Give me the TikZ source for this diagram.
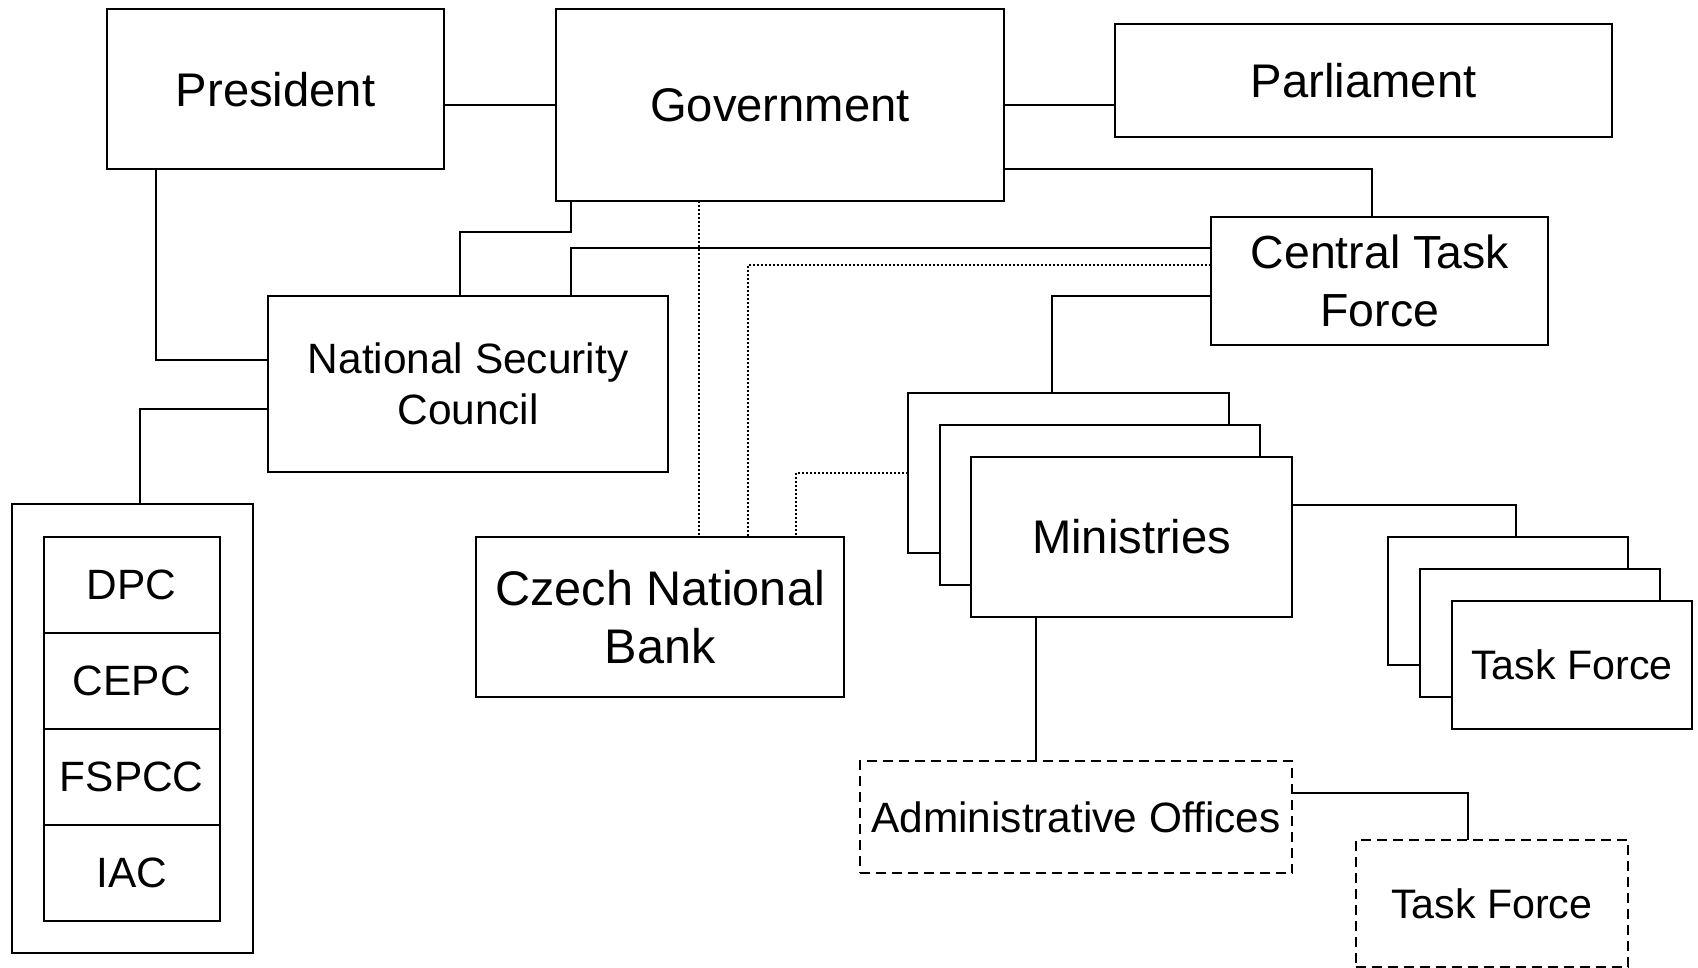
\documentclass[tikz,border=0pt]{standalone}
\usepackage{fontspec}
\setmainfont{Liberation Sans}
\usetikzlibrary{calc}
\tikzset{
  bx/.style 2 args={draw, line width=1pt, fill=white, inner sep=0pt, outer sep=0pt,
    align=center, minimum width=#1*0.5pt, minimum height=#2*0.5pt},
  ln/.style={line width=1pt},
  dt/.style={line width=1pt, dash pattern=on 1pt off 1pt},
  dsh/.style={dash pattern=on 5pt off 3pt},
  fa/.style={font=\fontsize{23.6}{29}\selectfont},
  fb/.style={font=\fontsize{21.2}{25.5}\selectfont},
  fc/.style={font=\fontsize{24.3}{28.7}\selectfont},
  fd/.style={font=\fontsize{20.6}{25}\selectfont},
}
\begin{document}
\begin{tikzpicture}[x=0.5pt,y=-0.5pt]
\useasboundingbox (0,0) rectangle (1698,968);
% main boxes
\node[bx={337}{159.7}, fa] (pres) at (275.5,89.2) {President};
\node[bx={448.2}{192}, fa] (gov) at (779.9,105) {Government};
\node[bx={496.5}{112.4}, fa] (parl) at (1363.7,80.5) {\raisebox{-1pt}{Parliament}};
\node[bx={336.9}{128.6}, font=\fontsize{23.2}{29.2}\selectfont] (ctf) at (1379.75,281) {Central Task\\Force};
\node[bx={400.4}{176}, fb] (nsc) at (468.1,384.3) {National Security\\Council};
\node[bx={368.5}{160.3}, fc] (cnb) at (660.15,617.15) {Czech National\\Bank};
% group
\node[bx={241}{448.4}] (grp) at (132,728.5) {};
\node[bx={176.3}{96}, fb] (dpc) at (131.75,585) {DPC};
\node[bx={176.3}{96}, fb] (cepc) at (131.75,681) {CEPC};
\node[bx={176.3}{96}, fb] (fspcc) at (131.75,777) {FSPCC};
\node[bx={176.3}{96}, fb] (iac) at (131.75,873) {IAC};
% ministries stack
\node[bx={320.5}{160.2}] (min1) at (1068.25,472.8) {};
\node[bx={320}{160.5}] (min2) at (1100,504.85) {};
\node[bx={320.7}{160.1}, fa] (min3) at (1131.65,536.95) {Ministries};
% task force stack
\node[bx={240.3}{128}] (tf1) at (1507.85,601) {};
\node[bx={240.2}{128}] (tf2) at (1539.6,633.1) {};
\node[bx={240.2}{127.5}, fd] (tf3) at (1571.9,665) {Task Force};
% dashed boxes
\node[bx={432.3}{112.4}, dsh, fb] (adm) at (1075.85,817.2) {Administrative Offices};
\node[bx={272.5}{126.4}, dsh, fd] (tfd) at (1491.75,903.6) {Task Force};
% connectors
\draw[ln] (pres.east |- gov.west) -- (gov.west);
\draw[ln] (gov.east) -- (gov.east -| parl.west);
\draw[ln] ($(gov.south east)+(0,-31.7)$) -| ($(ctf.north)+(-8,0)$);
\draw[ln] ($(gov.south west)+(15.6,0)$) -- ++(0,31.3) -| ($(nsc.north west)+(191.9,0)$);
\draw[ln] ($(ctf.north west)+(0,31.6)$) -| ($(nsc.north west)+(303.5,0)$);
\draw[dt] ($(ctf.north west)+(0,48.3)$) -| ($(cnb.north west)+(271.9,0)$);
\coordinate (g1) at ($(gov.south west)+(143.2,0)$);
\draw[dt] (g1) -- (g1 |- cnb.north);
\draw[dt] (min1.west) -| ($(cnb.north west)+(320.1,0)$);
\draw[ln] ($(ctf.north west)+(0,79.3)$) -| ($(min1.north west)+(144,0)$);
\draw[ln] ($(pres.south west)+(48.8,0)$) |- ($(nsc.north west)+(0,64)$);
\draw[ln] ($(nsc.north west)+(0,112.7)$) -| ($(grp.north)+(8,0)$);
\draw[ln] ($(min3.north east)+(0,48)$) -| ($(tf1.north west)+(128.1,0)$);
\coordinate (m3) at ($(min3.south west)+(64.7,0)$);
\draw[ln] (m3) -- (m3 |- adm.north);
\draw[ln] ($(adm.north east)+(0,32.2)$) -| ($(tfd.north west)+(112.1,0)$);
\end{tikzpicture}
\end{document}
